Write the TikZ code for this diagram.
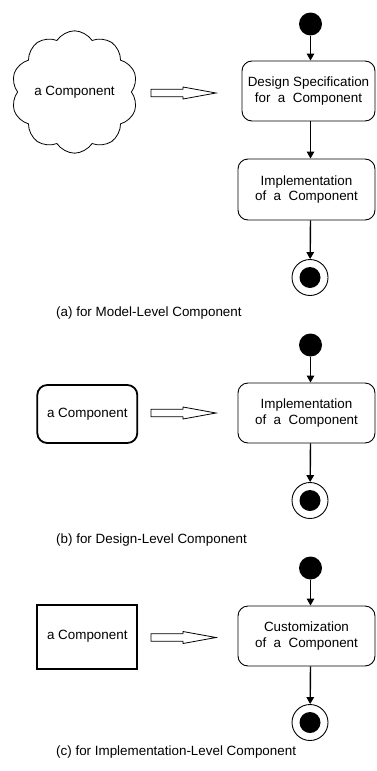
\documentclass[tikz,border=0pt]{standalone}
\usepackage{fontspec}
\setmainfont{Liberation Sans}
\usetikzlibrary{arrows.meta,shapes.symbols}

\tikzset{
  activity/.style={draw, line width=0.9pt, rounded corners=10pt, align=center,
    minimum width=137pt, minimum height=60pt, inner sep=0pt},
  startdot/.style={circle, fill=black, minimum size=23pt, inner sep=0pt},
  enddot/.style={circle, draw, line width=0.9pt, minimum size=36pt, inner sep=0pt},
  enddotcore/.style={circle, fill=black, minimum size=21pt, inner sep=0pt},
  flow/.style={draw, line width=1.4pt, -{Triangle[length=7pt,width=7.5pt]}},
  compbox/.style={draw, line width=1.8pt, minimum width=100pt, inner sep=0pt},
  caption/.style={anchor=west, inner sep=0pt},
  hollowarrow/.style={draw, line width=0.8pt, line join=miter}
}

\begin{document}
\begin{tikzpicture}[x=1pt, y=-1pt, font=\fontsize{13.4}{15.8}\selectfont]
\useasboundingbox (0,0) rectangle (376,771);

% ---------------- (a) model-level component ----------------
\node[cloud, draw, line width=0.8pt, cloud puffs=10, cloud puff arc=115, aspect=1.05,
      minimum width=118pt, minimum height=112pt, inner sep=0pt] (cloudA) at (74.5,92) {a Component};
\coordinate (hA) at (183.5,93);
\node[startdot] (sA) at (310.5,24) {};
\node[activity, minimum width=133pt] (dA) at (308.5,91) {Design Specification\\for~~a~~Component};
\node[activity, minimum height=61pt] (iA) at (306.5,189.5) {Implementation\\of~~a~~Component};
\node[enddot] (eA) at (310,277.5) {};
\node[enddotcore] (eAc) at (eA) {};
\draw[flow] (sA) -- (sA |- dA.north);
\draw[flow] (sA |- dA.south) -- (sA |- iA.north);
\draw[flow] (sA |- iA.south) -- (eA);
\node[caption] (capA) at (56,313) {(a) for Model-Level Component};

% ---------------- (b) design-level component ----------------
\node[compbox, rounded corners=10pt, minimum height=58pt] (boxB) at (87.3,414) {a Component};
\coordinate (hB) at (183.5,413);
\node[startdot] (sB) at (310.5,345) {};
\node[activity] (iB) at (306.5,413) {Implementation\\of~~a~~Component};
\node[enddot] (eB) at (310,500.5) {};
\node[enddotcore] (eBc) at (eB) {};
\draw[flow] (sB) -- (sB |- iB.north);
\draw[flow] (sB |- iB.south) -- (eB);
\node[caption] (capB) at (56,540.5) {(b) for Design-Level Component};

% ---------------- (c) implementation-level component ----------------
\node[compbox, minimum height=64pt] (boxC) at (87.3,636.7) {a Component};
\coordinate (hC) at (183.5,637.5);
\node[startdot] (sC) at (310.5,568) {};
\node[activity] (cC) at (306.5,636) {Customization\\of~~a~~Component};
\node[enddot] (eC) at (310,722.5) {};
\node[enddotcore] (eCc) at (eC) {};
\draw[flow] (sC) -- (sC |- cC.north);
\draw[flow] (sC |- cC.south) -- (eC);
\node[caption] (capC) at (56,752.5) {(c) for Implementation-Level Component};

% hollow "becomes" arrows between the component and its activity
\foreach \h in {hA,hB,hC} {
  \draw[hollowarrow] ([shift={(-32.5,-3.7)}]\h) -- ([shift={(-0.5,-3.7)}]\h)
    -- ([shift={(-0.5,-6)}]\h) -- ([shift={(32.5,0)}]\h) -- ([shift={(-0.5,6)}]\h)
    -- ([shift={(-0.5,3.7)}]\h) -- ([shift={(-32.5,3.7)}]\h) -- cycle;
}
\end{tikzpicture}
\end{document}
